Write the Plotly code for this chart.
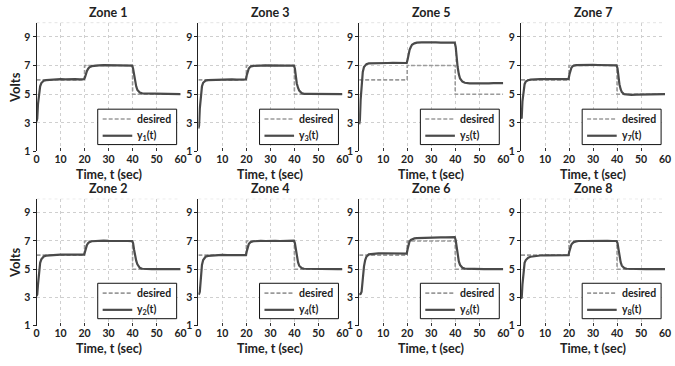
import plotly.graph_objects as go

# ---------------- data ----------------
T = [0, 0.3, 0.6, 1.0, 1.5, 2.0, 2.5, 3.0, 4.0,
     6, 8, 10, 12, 14, 16, 18, 19.8,
     20.2, 20.6, 21.0, 21.5, 22, 23, 24,
     26, 28, 30, 32, 34, 36, 38, 39.8,
     40.2, 40.6, 41.0, 41.5, 42, 43, 44,
     46, 48, 50, 52, 54, 56, 58, 60]

DES_T = [0, 20, 20, 40, 40, 60]
DES_V = [6, 6, 7, 7, 5, 5]

Y1 = [3.1, 3.3, 4.3, 5.1, 5.55, 5.78, 5.88, 5.94, 5.98,
      6.02, 6.03, 6.05, 6.04, 6.06, 6.05, 6.04, 6.05,
      6.2, 6.45, 6.62, 6.78, 6.88, 6.96, 6.99,
      7.01, 7.03, 7.02, 7.0, 7.02, 7.01, 7.0, 7.0,
      6.8, 6.3, 5.9, 5.55, 5.3, 5.12, 5.06,
      5.05, 5.04, 5.03, 5.02, 5.02, 5.01, 5.0, 5.0]
Y2 = [3.1, 3.2, 3.9, 4.9, 5.45, 5.7, 5.82, 5.9, 5.96,
      6.0, 6.02, 6.03, 6.04, 6.03, 6.04, 6.02, 6.03,
      6.25, 6.55, 6.72, 6.85, 6.92, 6.98, 7.0,
      7.02, 7.03, 7.01, 7.02, 7.0, 7.01, 7.0, 6.99,
      6.85, 6.4, 5.95, 5.6, 5.35, 5.1, 5.03,
      5.0, 5.0, 5.0, 5.0, 5.0, 5.0, 5.0, 5.0]
Y3 = [2.6, 2.8, 4.0, 5.0, 5.55, 5.8, 5.9, 5.95, 5.98,
      6.0, 6.01, 6.02, 6.02, 6.03, 6.02, 6.03, 6.03,
      6.35, 6.65, 6.8, 6.9, 6.95, 6.98, 7.0,
      7.0, 7.01, 7.02, 7.0, 7.01, 7.0, 7.0, 7.0,
      6.8, 6.2, 5.75, 5.45, 5.25, 5.08, 5.03,
      5.02, 5.01, 5.0, 5.0, 5.0, 5.0, 5.0, 5.0]
Y4 = [3.2, 3.25, 3.4, 4.5, 5.3, 5.65, 5.8, 5.88, 5.94,
      5.98, 6.0, 6.01, 6.0, 6.01, 6.0, 6.0, 6.0,
      6.3, 6.6, 6.78, 6.88, 6.94, 6.98, 7.0,
      7.01, 7.0, 7.02, 7.01, 7.0, 7.01, 7.02, 7.02,
      6.85, 6.35, 5.9, 5.5, 5.25, 5.08, 5.03,
      5.02, 5.0, 5.0, 5.0, 5.0, 5.0, 5.0, 5.0]
Y5 = [2.9, 3.2, 4.6, 5.8, 6.55, 6.9, 7.05, 7.1, 7.15,
      7.17, 7.18, 7.2, 7.18, 7.19, 7.18, 7.2, 7.18,
      7.45, 7.85, 8.1, 8.3, 8.45, 8.55, 8.6,
      8.62, 8.63, 8.6, 8.62, 8.6, 8.61, 8.6, 8.6,
      8.3, 7.5, 6.9, 6.4, 6.1, 5.88, 5.8,
      5.76, 5.75, 5.76, 5.75, 5.76, 5.77, 5.78, 5.78]
Y6 = [3.2, 3.2, 3.25, 3.4, 4.4, 5.2, 5.65, 5.88, 6.05,
      6.1, 6.12, 6.13, 6.12, 6.13, 6.12, 6.1, 6.1,
      6.45, 6.8, 6.98, 7.08, 7.13, 7.18, 7.2,
      7.22, 7.23, 7.22, 7.24, 7.25, 7.25, 7.27, 7.28,
      7.05, 6.45, 5.95, 5.55, 5.3, 5.1, 5.04,
      5.02, 5.01, 5.0, 5.0, 5.0, 5.0, 5.0, 5.0]
Y7 = [3.3, 3.35, 4.5, 5.3, 5.7, 5.88, 5.95, 5.98, 6.02,
      6.05, 6.06, 6.05, 6.06, 6.05, 6.06, 6.05, 6.06,
      6.4, 6.7, 6.85, 6.95, 7.0, 7.03, 7.04,
      7.05, 7.04, 7.05, 7.04, 7.03, 7.04, 7.03, 7.02,
      6.8, 6.2, 5.7, 5.35, 5.15, 5.0, 4.97,
      4.96, 4.97, 4.98, 4.99, 5.0, 5.0, 5.0, 5.0]
Y8 = [2.9, 3.0, 3.9, 4.9, 5.45, 5.65, 5.75, 5.82, 5.88,
      5.94, 5.97, 5.98, 5.99, 6.0, 6.0, 6.0, 6.0,
      6.3, 6.6, 6.75, 6.85, 6.92, 6.97, 7.0,
      7.0, 7.01, 7.02, 7.01, 7.0, 7.01, 7.0, 7.0,
      6.85, 6.35, 5.9, 5.5, 5.25, 5.08, 5.03,
      5.01, 5.0, 5.0, 5.0, 5.0, 5.0, 5.0, 5.0]

ZONES = [1, 2, 3, 4, 5, 6, 7, 8]
RESP = {1: Y1, 2: Y2, 3: Y3, 4: Y4, 5: Y5, 6: Y6, 7: Y7, 8: Y8}
X_TICKS = [0, 10, 20, 30, 40, 50, 60]
Y_TICKS = [1, 3, 5, 7, 9]

# ---------------- style / geometry (pixels) ----------------
W, H = 675, 366
COLS = [(34, 180), (198, 344), (361, 507), (525, 671)]
ROWS = [(23, 154), (202, 331)]  # top, bottom in px from top
FONT = "Lato, 'Open Sans', sans-serif"
TXT = "#222222"
DES_COLOR, DES_DASH, DES_W = "#9a9a9a", "4px,2px", 1.6
RESP_COLOR, RESP_W = "#4a4a4a", 2.2
GRID = "#cfcfcf"


def px(x):
    return x / W


def py(y):
    return 1 - y / H


fig = go.Figure()
layout = dict(
    width=W, height=H, margin=dict(l=0, r=0, t=0, b=0),
    paper_bgcolor="white", plot_bgcolor="white",
    showlegend=False, font=dict(family=FONT, color=TXT),
)
annotations = []
shapes = []

for idx, zone in enumerate(ZONES):
    col = (zone - 1) // 2
    row = (zone - 1) % 2
    n = idx + 1
    xa = "x" if n == 1 else f"x{n}"
    ya = "y" if n == 1 else f"y{n}"
    x0, x1 = COLS[col]
    yt, yb = ROWS[row]

    fig.add_trace(go.Scatter(
        x=DES_T, y=DES_V, mode="lines", name="desired",
        line=dict(color=DES_COLOR, width=DES_W, dash=DES_DASH),
        xaxis=xa, yaxis=ya, hoverinfo="skip"))
    fig.add_trace(go.Scatter(
        x=T, y=RESP[zone], mode="lines", name=f"y<sub>{zone}</sub>(t)",
        line=dict(color=RESP_COLOR, width=RESP_W),
        xaxis=xa, yaxis=ya, hoverinfo="skip"))

    tickfont = dict(family=FONT, size=10.5, color=TXT, weight="bold")
    layout["xaxis" if n == 1 else f"xaxis{n}"] = dict(
        domain=[px(x0), px(x1)], anchor=ya, range=[0, 60], tickvals=X_TICKS,
        showgrid=True, gridcolor=GRID, griddash="3px,3px", gridwidth=1,
        showline=False, ticks="inside", ticklen=3, tickcolor="#333333",
        tickfont=tickfont, zeroline=False, fixedrange=True)
    layout["yaxis" if n == 1 else f"yaxis{n}"] = dict(
        domain=[py(yb), py(yt)], anchor=xa, range=[1, 10], tickvals=Y_TICKS,
        showgrid=True, gridcolor=GRID, griddash="3px,3px", gridwidth=1,
        showline=True, linecolor="#222222", linewidth=1,
        ticks="outside", ticklen=3, tickcolor="#222222",
        tickfont=tickfont, zeroline=False, fixedrange=True)

    # top border (dotted, like grid)
    shapes.append(dict(type="line", xref=f"{xa} domain", yref=ya,
                       x0=0, x1=1, y0=10, y1=10, layer="below",
                       line=dict(color=GRID, width=1, dash="3px,3px")))

    # legend box (drawn by hand for exact size)
    lx0, lx1 = x1 - 84, x1 - 4
    ly0, ly1 = yb - 43, yb - 7
    shapes.append(dict(type="rect", xref="paper", yref="paper",
                       x0=px(lx0), x1=px(lx1), y0=py(ly1), y1=py(ly0),
                       fillcolor="white", line=dict(color="#111111", width=1)))
    for k, (name, color, width, dash) in enumerate([
            ("desired", DES_COLOR, DES_W, DES_DASH),
            (f"y<sub>{zone}</sub>(t)", RESP_COLOR, RESP_W, "solid")]):
        ly = ly0 + 10 + k * 17
        shapes.append(dict(type="line", xref="paper", yref="paper",
                           x0=px(lx0 + 5), x1=px(lx0 + 35), y0=py(ly), y1=py(ly),
                           line=dict(color=color, width=width, dash=dash)))
        annotations.append(dict(
            text=name, x=px(lx0 + 38), y=py(ly), xref="paper", yref="paper",
            showarrow=False, xanchor="left", yanchor="middle",
            font=dict(family=FONT, size=10.5, color=TXT, weight="bold")))

    cx = px((x0 + x1) / 2)
    annotations.append(dict(
        text=f"Zone {zone}", x=cx, y=py(yt - 10), xref="paper", yref="paper",
        showarrow=False, xanchor="center", yanchor="middle",
        font=dict(family=FONT, size=12.5, color=TXT, weight="bold")))
    annotations.append(dict(
        text="Time, t (sec)", x=cx, y=py(yb + 23), xref="paper", yref="paper",
        showarrow=False, xanchor="center", yanchor="middle",
        font=dict(family=FONT, size=12.5, color=TXT, weight="bold")))

for yt, yb in ROWS:
    annotations.append(dict(
        text="Volts", x=px(12), y=py((yt + yb) / 2), xref="paper", yref="paper",
        showarrow=False, textangle=-90, xanchor="center", yanchor="middle",
        font=dict(family=FONT, size=13, color=TXT, weight="bold")))

layout["annotations"] = annotations
layout["shapes"] = shapes
fig.update_layout(**layout)

fig.write_html("out.html")
